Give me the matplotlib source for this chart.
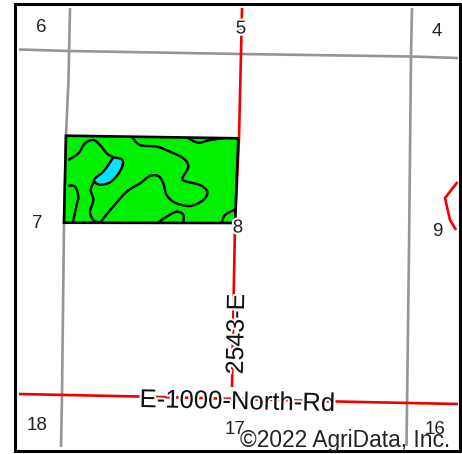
"""Soil map sheet: section grid, roads and one field, drawn in image pixel coordinates."""
import numpy as np
import matplotlib
matplotlib.use('Agg')
import matplotlib.pyplot as plt
import matplotlib.patheffects as pe
from matplotlib.patches import PathPatch, Rectangle
from matplotlib.path import Path

plt.rcParams['font.family'] = ['Liberation Sans', 'DejaVu Sans']

# section lines and roads in pixels
grey_west = [(70, 8), (68.5, 80), (66, 135), (64, 224), (62, 395), (61, 447)]
grey_east = [(412, 8), (411, 56), (409, 250), (406.5, 446)]
grey_north = [(19, 49.5), (69, 51), (241, 54), (411, 56.5), (458, 58)]
red_north_south = [(242, 8), (241, 54), (239, 138), (235, 224), (232, 387)]
red_east_west = [(19, 394), (138, 396.5), (337, 401.5), (458, 404)]
red_east_stub = [(457.5, 182), (445, 198), (450, 220), (456, 230)]

field_outline = [(66, 135.7), (238.3, 138.3), (235, 223), (64, 222.7)]

pond = [(190, 112), (215, 118), (218, 135), (204, 163), (180, 187), (150, 194),
        (132, 180), (160, 155), (178, 130), (190, 112)]
contours = [
    [(55, 120), (85, 100), (105, 70), (130, 60), (150, 75), (170, 100), (190, 112)],
    [(132, 185), (122, 210), (130, 240), (120, 275), (130, 300), (150, 308)],
    [(150, 308), (185, 265), (230, 215), (270, 190), (300, 168), (325, 168), (340, 190),
     (350, 225), (375, 248), (420, 258), (460, 240), (472, 215), (450, 195), (410, 185),
     (397, 175), (415, 140), (400, 115), (360, 95), (320, 80), (270, 75), (245, 50)],
    [(415, 55), (445, 68), (480, 60), (520, 55)],
    [(55, 197), (75, 200), (85, 230), (80, 255), (68, 308)],
    [(320, 310), (350, 290), (380, 275), (400, 285), (400, 310)],
    [(515, 310), (525, 285), (556, 268)],
]

section_labels = ['6', '5', '4', '7', '8', '9', '18', '17', '16']
section_x = [41, 241, 437, 37, 238, 437, 37, 235, 435]
section_y = [27, 29, 31, 224, 228, 232, 425, 430, 429]


def crop_to_px(pts):
    return [(x / 3 + 50, y / 3 + 120) for x, y in pts]


def smooth_path(pts):
    # catmull-rom through the picked points, written as cubic beziers
    pts = np.array(pts, dtype=float)
    verts = [pts[0]]
    codes = [Path.MOVETO]
    for i in range(len(pts) - 1):
        before = pts[max(i - 1, 0)]
        after = pts[min(i + 2, len(pts) - 1)]
        verts += [pts[i] + (pts[i + 1] - before) / 6, pts[i + 1] - (after - pts[i]) / 6, pts[i + 1]]
        codes += [Path.CURVE4] * 3
    return Path(verts, codes)


def polyline(ax, pts, color, lw, z):
    xs, ys = zip(*pts)
    ax.plot(xs, ys, color=color, lw=lw, zorder=z, solid_capstyle='butt')


fig = plt.figure(figsize=(4.62, 4.54), dpi=100)
ax = fig.add_axes([0, 0, 1, 1])
ax.set_xlim(0, 462)
ax.set_ylim(454, 0)
ax.axis('off')

ax.add_patch(Rectangle((14.5, 4), 445.5, 446.5, fc='white', ec='black', lw=2.2, zorder=1))

for line in (grey_west, grey_east, grey_north):
    polyline(ax, line, '#959595', 1.9, 2)
for line in (red_north_south, red_east_west, red_east_stub):
    polyline(ax, line, '#f00000', 1.9, 3)

ax.add_patch(plt.Polygon(field_outline, closed=True, fc='#00f000', ec='black', lw=1.9,
                         joinstyle='miter', zorder=4))
ax.add_patch(PathPatch(smooth_path(crop_to_px(pond)), fc='#00e5ff', ec='black', lw=1.7, zorder=5))
for c in contours:
    ax.add_patch(PathPatch(smooth_path(crop_to_px(c)), fc='none', ec='black', lw=1.7,
                           capstyle='butt', zorder=5))

halo = [pe.withStroke(linewidth=3, foreground='white')]
for lab, x, y in zip(section_labels, section_x, section_y):
    ax.text(x, y, lab, fontsize=13.5, color='#222222', ha='center', va='center', zorder=6,
            path_effects=halo if lab in ('5', '8') else None)

ax.text(236.5, 334, '2543-E', fontsize=18, rotation=89, ha='center', va='center',
        color='#111111', zorder=7, path_effects=halo, rotation_mode='anchor')
ax.text(237.5, 402, 'E-1000-North-Rd', fontsize=18.5, rotation=-1.2, ha='center', va='center',
        color='#111111', zorder=7, path_effects=halo, rotation_mode='anchor')

credit = ax.text(345.5, 440, '©2022 AgriData, Inc.', fontsize=16.4, ha='center', va='center',
                 color='#222222', zorder=8)
credit.set_clip_path(Rectangle((19, 8), 439, 439, transform=ax.transData))

fig.savefig('out.png', dpi=100)
